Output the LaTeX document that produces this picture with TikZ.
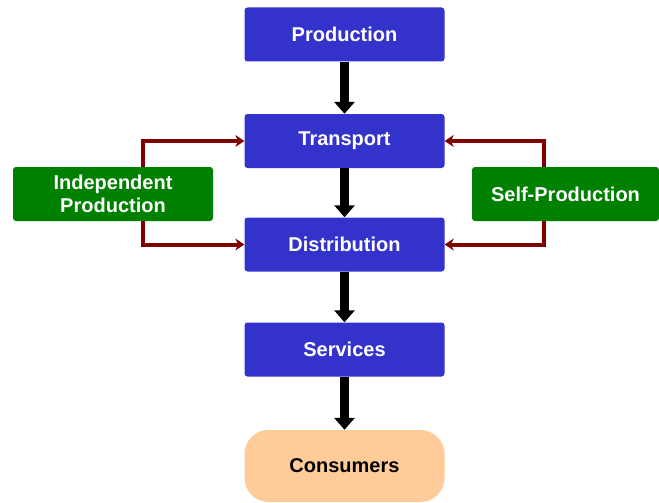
\documentclass[tikz,border=0pt]{standalone}
\usepackage{fontspec}
\setmainfont{Liberation Sans}
\usepackage{xcolor}
\usetikzlibrary{arrows.meta}

\definecolor{blufase}{HTML}{3333CC}
\definecolor{verdefase}{HTML}{008000}
\definecolor{pescaconsumo}{HTML}{FFCC99}
\definecolor{rossofreccia}{HTML}{800000}

\begin{document}
\begin{tikzpicture}[x=1pt,y=-1pt,
		fase/.style={fill=blufase,text=white,rounded corners=3pt,minimum width=200pt,minimum height=54pt,inner sep=0pt,font=\fontsize{20}{23}\selectfont\bfseries},
		esterno/.style={fase,fill=verdefase,align=center},
		flusso/.style={draw=black,line width=9pt,-{Triangle[width=20pt,length=12pt]}},
		apporto/.style={draw=rossofreccia,line width=4pt,-{Stealth[width=12pt,length=9pt]}}]
			\useasboundingbox (0,0) rectangle (659,503);
			% colonna centrale
			\node[fase] (produzione) at (344.5,34.5) {Production};
			\node[fase] (trasporto) at (344.5,141) {Transport};
			\node[fase] (distribuzione) at (344.5,244.5) {Distribution};
			\node[fase] (servizi) at (344.5,349.5) {Services};
			\node[fase,fill=pescaconsumo,text=black,rounded corners=24pt,minimum height=72pt] (consumatori) at (344.5,466) {Consumers};
			% fonti laterali
			\node[esterno] (indipendente) at (113,194) {Independent\\Production};
			\node[esterno,minimum width=187pt] (autoproduzione) at (565.5,194) {Self-Production};
			% frecce
			\draw[flusso] (produzione) -- (trasporto);
			\draw[flusso] (trasporto) -- (distribuzione);
			\draw[flusso] (distribuzione) -- (servizi);
			\draw[flusso] (servizi) -- (consumatori);
			\draw[apporto] ([xshift=30pt]indipendente.north) |- (trasporto.west);
			\draw[apporto] ([xshift=30pt]indipendente.south) |- (distribuzione.west);
			\draw[apporto] ([xshift=-22pt]autoproduzione.north) |- (trasporto.east);
			\draw[apporto] ([xshift=-22pt]autoproduzione.south) |- (distribuzione.east);
		\end{tikzpicture}
\end{document}
